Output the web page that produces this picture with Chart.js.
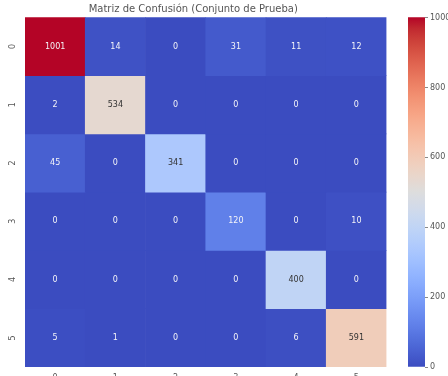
<!DOCTYPE html>
<html>
<head>
<meta charset="utf-8">
<script src="https://cdn.jsdelivr.net/npm/chart.js@4.4.1/dist/chart.umd.min.js"></script>
<style>
  html, body { margin: 0; padding: 0; background: #fff; width: 448px; height: 376px; overflow: hidden; position: relative; }
  canvas { position: absolute; filter: blur(0.7px); }
  #heat { left: 0; top: 0; }
  #bar { left: 395px; top: 0; }
</style>
</head>
<body>
<canvas id="heat" width="410" height="385"></canvas>
<canvas id="bar" width="53" height="376"></canvas>
<script>
// Confusion matrix: rows = true class, columns = predicted class
const TITLE = 'Matriz de Confusión (Conjunto de Prueba)';
const ROW_LABELS = ['0', '1', '2', '3', '4', '5'];
const COL_LABELS = ['0', '1', '2', '3', '4', '5'];
const ROW_0 = [1001, 14, 0, 31, 11, 12];
const ROW_1 = [2, 534, 0, 0, 0, 0];
const ROW_2 = [45, 0, 341, 0, 0, 0];
const ROW_3 = [0, 0, 0, 120, 0, 10];
const ROW_4 = [0, 0, 0, 0, 400, 0];
const ROW_5 = [5, 1, 0, 0, 6, 591];
const MATRIX = [ROW_0, ROW_1, ROW_2, ROW_3, ROW_4, ROW_5];
const COLORBAR_TICKS = [0, 200, 400, 600, 800, 1000];

const VMIN = 0;
const VMAX = Math.max(...MATRIX.flat());

// Diverging cool-warm colour map (blue -> grey -> red)
const COOLWARM = [
  [59,76,192],[68,90,204],[77,104,215],[87,117,225],[98,130,234],[108,142,241],
  [119,154,247],[130,165,251],[141,176,254],[152,185,255],[163,194,255],[174,201,253],
  [184,208,249],[194,213,244],[204,217,238],[213,219,230],[221,221,221],[229,216,209],
  [236,211,197],[241,204,185],[245,196,173],[247,187,160],[247,177,148],[247,166,135],
  [244,154,123],[241,141,111],[236,127,99],[229,112,88],[222,96,77],[213,80,66],
  [203,62,56],[192,40,47],[180,4,38]
];
function cmapRGB(t) {
  t = Math.min(1, Math.max(0, t));
  const p = t * (COOLWARM.length - 1);
  const i = Math.min(Math.floor(p), COOLWARM.length - 2);
  const f = p - i;
  const a = COOLWARM[i], b = COOLWARM[i + 1];
  return a.map((v, k) => Math.round(v + (b[k] - v) * f));
}
function cmap(t) {
  const c = cmapRGB(t);
  return `rgb(${c[0]},${c[1]},${c[2]})`;
}
function luminance(rgb) {
  const lin = rgb.map(v => {
    v /= 255;
    return v <= 0.03928 ? v / 12.92 : Math.pow((v + 0.055) / 1.055, 2.4);
  });
  return 0.2126 * lin[0] + 0.7152 * lin[1] + 0.0722 * lin[2];
}
const norm = v => (v - VMIN) / (VMAX - VMIN);

const FONT = "'DejaVu Sans', sans-serif";
const TEXT_COLOR = '#555';

// One floating-bar dataset per row; each bar spans [row, row + 1]
const datasets = MATRIX.map((row, r) => ({
  label: ROW_LABELS[r],
  data: row.map(() => [r, r + 1]),
  backgroundColor: row.map(v => cmap(norm(v))),
  borderWidth: 0,
  grouped: false,
  barPercentage: 1,
  categoryPercentage: 1
}));

// Writes each cell's count at the centre of its bar
const cellLabels = {
  id: 'cellLabels',
  afterDatasetsDraw(chart) {
    const ctx = chart.ctx;
    ctx.save();
    ctx.font = `8px ${FONT}`;
    ctx.textAlign = 'center';
    ctx.textBaseline = 'middle';
    MATRIX.forEach((row, r) => {
      const meta = chart.getDatasetMeta(r);
      meta.data.forEach((bar, c) => {
        const { x, y, base } = bar.getProps(['x', 'y', 'base'], true);
        const v = row[c];
        ctx.fillStyle = luminance(cmapRGB(norm(v))) > 0.408 ? '#333333' : '#f4f4f8';
        ctx.fillText(String(v), x, (y + base) / 2);
      });
    });
    ctx.restore();
  }
};

new Chart(document.getElementById('heat'), {
  type: 'bar',
  data: { labels: COL_LABELS, datasets },
  plugins: [cellLabels],
  options: {
    responsive: false,
    animation: false,
    devicePixelRatio: 1,
    layout: { padding: { left: 0, right: 23.5, top: 0, bottom: 0 } },
    plugins: {
      legend: { display: false },
      tooltip: { enabled: false },
      title: {
        display: true,
        text: TITLE,
        color: '#555',
        font: { family: FONT, size: 10, weight: 'normal' },
        padding: { top: 3, bottom: 2.3 }
      }
    },
    scales: {
      x: {
        type: 'category',
        grid: { display: false, drawTicks: false },
        border: { display: false },
        ticks: { color: TEXT_COLOR, font: { family: FONT, size: 8 }, padding: 6 },
        afterFit(s) { s.height = 18; }
      },
      y: {
        type: 'linear',
        min: 0,
        max: ROW_LABELS.length,
        reverse: true,
        grid: { display: false, drawTicks: false },
        border: { display: false },
        afterBuildTicks(s) { s.ticks = ROW_LABELS.map((_, i) => ({ value: i + 0.5 })); },
        ticks: {
          color: TEXT_COLOR,
          font: { family: FONT, size: 8 },
          minRotation: 90,
          maxRotation: 90,
          crossAlign: 'center',
          padding: 10,
          callback: v => ROW_LABELS[Math.floor(v)]
        },
        afterFit(s) { s.width = 25; }
      }
    }
  }
});

// Colour bar: a single bar spanning the value range, filled with the colour map
new Chart(document.getElementById('bar'), {
  type: 'bar',
  data: {
    labels: [''],
    datasets: [{
      data: [[VMIN, VMAX]],
      borderWidth: 0,
      barPercentage: 1,
      categoryPercentage: 1,
      backgroundColor(c) {
        const area = c.chart.chartArea;
        if (!area) return cmap(0.5);
        const g = c.chart.ctx.createLinearGradient(0, area.bottom, 0, area.top);
        for (let i = 0; i <= 64; i++) g.addColorStop(i / 64, cmap(i / 64));
        return g;
      }
    }]
  },
  options: {
    responsive: false,
    animation: false,
    devicePixelRatio: 1,
    layout: { padding: { left: 13, right: 0, top: 17.3, bottom: 9 } },
    plugins: { legend: { display: false }, tooltip: { enabled: false } },
    scales: {
      x: { display: false },
      y: {
        position: 'right',
        min: VMIN,
        max: VMAX,
        grid: { drawOnChartArea: false, drawTicks: true, tickLength: 3, color: '#888' },
        border: { display: false },
        afterBuildTicks(s) { s.ticks = COLORBAR_TICKS.map(v => ({ value: v })); },
        ticks: {
          color: TEXT_COLOR,
          font: { family: FONT, size: 8 },
          padding: 2,
          callback: v => String(v)
        },
        afterFit(s) { s.width = 23; }
      }
    }
  }
});
</script>
</body>
</html>
